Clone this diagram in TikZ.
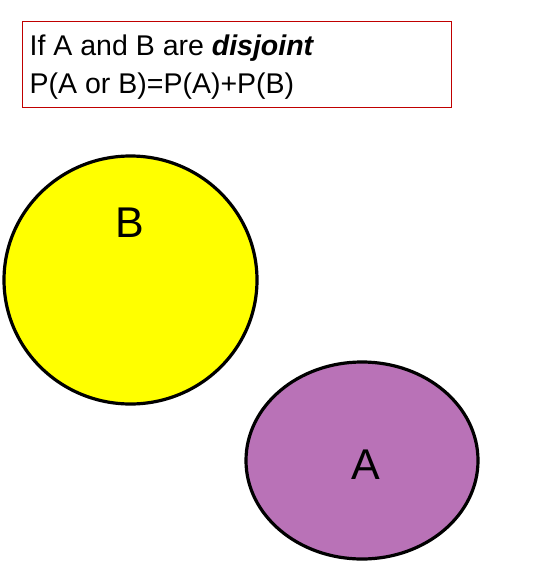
\documentclass[tikz,border=0pt]{standalone}
\usepackage{fontspec}
\setmainfont{Liberation Sans}
\usetikzlibrary{positioning, shapes.geometric}

\definecolor{boxred}{RGB}{192,0,0}
\definecolor{setyellow}{RGB}{255,255,0}
\definecolor{setpurple}{RGB}{185,114,183}

\tikzset{
    infobox/.style={draw=boxred, line width=0.8pt, inner sep=0pt},
    infoline/.style={anchor=base west, inner sep=0pt, font=\fontsize{28.5}{34}\selectfont},
    setshape/.style={ellipse, draw=black, line width=3.2pt, inner sep=0pt},
    setlabel/.style={inner sep=0pt, font=\fontsize{43}{50}\selectfont}
}

\begin{document}
\begin{tikzpicture}[x=1pt, y=-1pt]
    \useasboundingbox (0,0) rectangle (555,575);

    % statement box
    \node[infobox, anchor=north west, minimum width=429pt, minimum height=86.6pt] (box) at (21.7,20.7) {};
    \node[infoline] (line1) at (29.5,55.7) {If A and B are \textbf{\textit{disjoint}}};
    \node[infoline] (line2) at (29.5,93.5) {P(A or B)=P(A)+P(B)};

    % the two sets
    \node[setshape, fill=setyellow, minimum width=253pt, minimum height=248pt] (setB) at (130.5,280) {};
    \node[setshape, fill=setpurple, minimum width=232pt, minimum height=197pt] (setA) at (362,460.5) {};

    \node[setlabel] (labelB) at (130,223) {B};
    \node[setlabel] (labelA) at (366,465) {A};
\end{tikzpicture}
\end{document}
